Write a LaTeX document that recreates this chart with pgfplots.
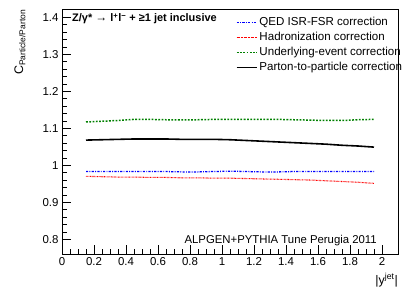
\documentclass[border=0pt]{standalone}
\usepackage{fontspec}
\setmainfont{Liberation Sans}
\usepackage{pgfplots}
\pgfplotsset{compat=1.18}
\definecolor{rgreen}{RGB}{0,128,0}
\definecolor{rblue}{RGB}{0,0,255}
\definecolor{rred}{RGB}{255,0,0}
\begin{document}
\begin{tikzpicture}
\begin{axis}[name=ax, at={(0,0)}, anchor=south west,
  scale only axis, width=336bp, height=245bp,
  xmin=0, xmax=2.1, ymin=0.76, ymax=1.4225,
  xtick={0,0.2,...,2.01}, ytick={0.8,0.9,1,1.1,1.2,1.3,1.4},
  xticklabels={0,0.2,0.4,0.6,0.8,1,1.2,1.4,1.6,1.8,2},
  yticklabels={0.8,0.9,1,1.1,1.2,1.3,1.4},
  minor x tick num=3, minor y tick num=4,
  tick pos=left, tick align=inside,
  major tick length=9bp, minor tick length=5bp,
  every tick/.style={black, line width=0.6pt},
  axis line style={line width=0.6pt},
  tick label style={font=\fontsize{11.5}{13}\selectfont},
  /pgf/number format/assume math mode=true,
  legend cell align=left,
  legend image code/.code={\draw[#1] plot coordinates {(0bp,0bp)(20bp,0bp)};},
  legend style={draw=none, fill=none, at={(rel axis cs:0.517,0.975)}, anchor=north west,
    font=\fontsize{11.6}{12}\selectfont, row sep=1.2pt, inner sep=0pt},
]
\addplot[color=rblue, draw=rblue, line width=1.3pt, dash pattern=on 2.2pt off 1.3pt on 0.9pt off 1.3pt] coordinates {
(0.15,0.983)(0.25,0.983)(0.35,0.983)(0.45,0.983)(0.55,0.983)(0.65,0.983)(0.75,0.982)(0.85,0.982)(0.95,0.983)(1.05,0.984)(1.15,0.983)(1.25,0.982)(1.35,0.982)(1.45,0.983)(1.55,0.983)(1.65,0.983)(1.75,0.983)(1.85,0.983)(1.95,0.983)};
\addlegendentry{QED ISR-FSR correction}
\addplot[color=rred, draw=rred, line width=1.1pt, dash pattern=on 0.7pt off 0.7pt] coordinates {
(0.15,0.970)(0.25,0.969)(0.35,0.968)(0.45,0.968)(0.55,0.967)(0.65,0.967)(0.75,0.966)(0.85,0.966)(0.95,0.965)(1.05,0.965)(1.15,0.964)(1.25,0.963)(1.35,0.962)(1.45,0.961)(1.55,0.960)(1.65,0.958)(1.75,0.956)(1.85,0.954)(1.95,0.951)};
\addlegendentry{Hadronization correction}
\addplot[color=rgreen, draw=rgreen, line width=1.5pt, dash pattern=on 1.8pt off 1.5pt] coordinates {
(0.15,1.117)(0.25,1.119)(0.35,1.121)(0.45,1.124)(0.55,1.124)(0.65,1.123)(0.75,1.123)(0.85,1.123)(0.95,1.124)(1.05,1.124)(1.15,1.124)(1.25,1.124)(1.35,1.124)(1.45,1.123)(1.55,1.122)(1.65,1.121)(1.75,1.121)(1.85,1.123)(1.95,1.124)};
\addlegendentry{Underlying-event correction}
\addplot[color=black, draw=black, line width=1.6pt] coordinates {
(0.15,1.068)(0.25,1.069)(0.35,1.070)(0.45,1.071)(0.55,1.071)(0.65,1.071)(0.75,1.070)(0.85,1.070)(0.95,1.070)(1.05,1.069)(1.15,1.067)(1.25,1.065)(1.35,1.063)(1.45,1.061)(1.55,1.059)(1.65,1.057)(1.75,1.054)(1.85,1.052)(1.95,1.049)};
\addlegendentry{Parton-to-particle correction}
\end{axis}
\node[anchor=base west, font=\bfseries\fontsize{11}{12}\selectfont, inner sep=0pt] at ([xshift=10bp,yshift=-13bp]ax.north west) {Z/γ* {\mdseries\fontsize{12}{12}\selectfont →} l\textsuperscript{+}l\textsuperscript{−} + ≥1 jet inclusive};
\node[anchor=base east, font=\fontsize{11.4}{12}\selectfont, inner sep=0pt] at ([xshift=315bp,yshift=11bp]ax.south west) {ALPGEN+PYTHIA Tune Perugia 2011};
\node[anchor=base east, rotate=90, inner sep=0pt, font=\fontsize{12.5}{14}\selectfont] at ([xshift=-39bp,yshift=-1bp]ax.north west) {C\raisebox{-0.35ex}{\fontsize{8.5}{10}\selectfont Particle/Parton}};
\node[anchor=base east, inner sep=0pt, font=\fontsize{12.5}{14}\selectfont] at ([yshift=-30bp]ax.south east) {|y\textsuperscript{jet}|};
\pgfresetboundingbox
\path[use as bounding box] (-62bp,-46bp) rectangle (349bp,254bp);
\end{tikzpicture}
\end{document}
